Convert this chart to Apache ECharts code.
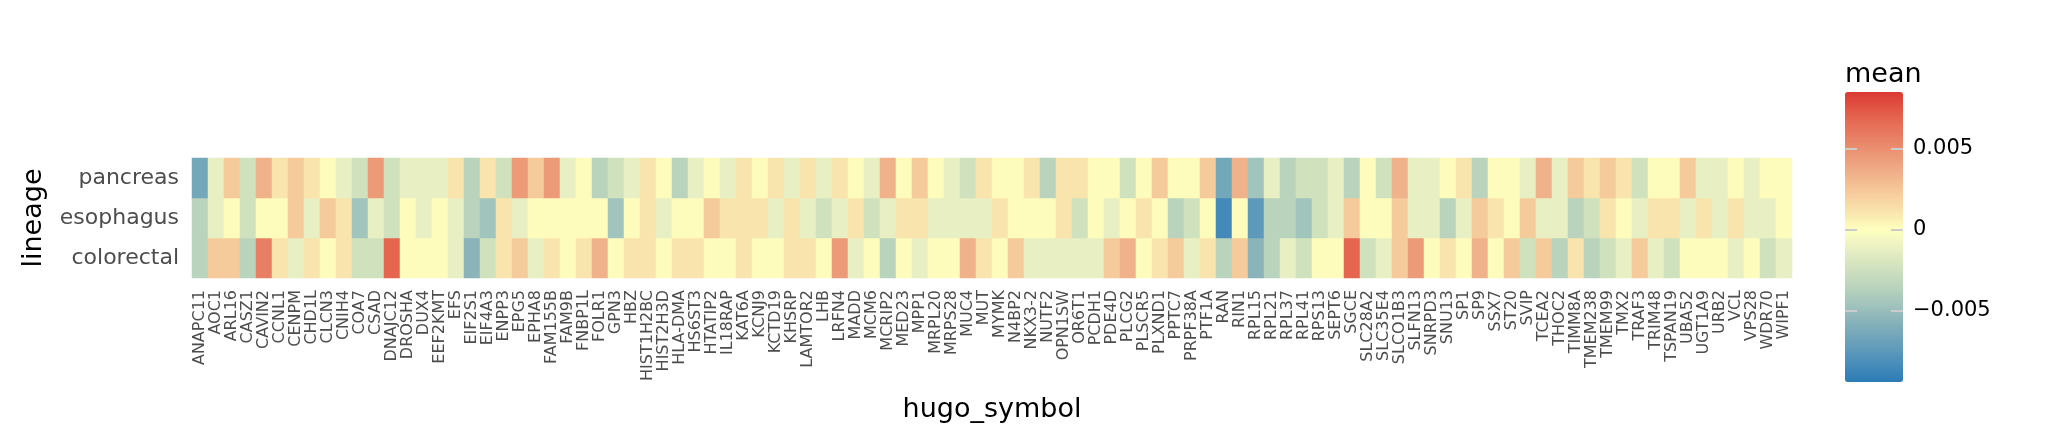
<!DOCTYPE html>
<html>
<head>
<meta charset="utf-8">
<script src="https://cdn.jsdelivr.net/npm/echarts@6/dist/echarts.min.js"></script>
<style>
  html, body { margin: 0; padding: 0; background: #fff; }
  #heatChart { width: 2047px; height: 445px; }
</style>
</head>
<body>
<div id="heatChart"></div>
<script>
const genes = ['ANAPC11','AOC1','ARL16','CASZ1','CAVIN2','CCNL1','CENPM','CHD1L','CLCN3','CNIH4',
  'COA7','CSAD','DNAJC12','DROSHA','DUX4','EEF2KMT','EFS','EIF2S1','EIF4A3','ENPP3',
  'EPG5','EPHA8','FAM155B','FAM9B','FNBP1L','FOLR1','GPN3','HBZ','HIST1H2BC','HIST2H3D',
  'HLA-DMA','HS6ST3','HTATIP2','IL18RAP','KAT6A','KCNJ9','KCTD19','KHSRP','LAMTOR2','LHB',
  'LRFN4','MADD','MCM6','MCRIP2','MED23','MPP1','MRPL20','MRPS28','MUC4','MUT',
  'MYMK','N4BP2','NKX3-2','NUTF2','OPN1SW','OR6T1','PCDH1','PDE4D','PLCG2','PLSCR5',
  'PLXND1','PPTC7','PRPF38A','PTF1A','RAN','RIN1','RPL15','RPL21','RPL37','RPL41',
  'RPS13','SEPT6','SGCE','SLC28A2','SLC35E4','SLCO1B3','SLFN13','SNRPD3','SNU13','SP1',
  'SP9','SSX7','ST20','SVIP','TCEA2','THOC2','TIMM8A','TMEM238','TMEM99','TMX2',
  'TRAF3','TRIM48','TSPAN19','UBA52','UGT1A9','URB2','VCL','VPS28','WDR70','WIPF1'];

// bottom to top
const lineages = ['colorectal', 'esophagus', 'pancreas'];

const pancreas = [-0.0065,-0.0012,0.0023,-0.0024,0.0034,0.0011,0.0023,0.0011,0.0001,-0.0012,
  -0.0024,0.0045,-0.0024,-0.0012,-0.0012,-0.0012,0.0011,-0.0035,0.0011,-0.0024,
  0.0045,0.0023,0.0045,-0.0012,0.0001,-0.0035,-0.0024,-0.0012,0.0011,0.0001,
  -0.0035,-0.0012,0.0001,-0.0012,0.0011,0.0001,0.0011,-0.0012,0.0011,-0.0012,
  0.0011,0.0001,-0.0012,0.0034,0.0001,0.0023,0.0001,-0.0012,-0.0024,0.0011,
  0.0001,0.0001,0.0011,-0.0035,0.0011,0.0011,0.0001,0.0001,-0.0024,0.0001,
  0.0023,0.0001,0.0001,0.0023,-0.0065,0.0034,-0.0046,-0.0012,-0.0035,-0.0024,
  -0.0024,-0.0012,-0.0035,0.0001,-0.0024,0.0034,-0.0012,-0.0012,0.0001,0.0011,
  -0.0035,0.0001,0.0001,-0.0012,0.0034,-0.0012,0.0023,0.0011,0.0023,0.0011,
  -0.0024,0.0001,0.0001,0.0023,-0.0012,-0.0012,0.0001,-0.0012,0.0001,0.0001];

const esophagus = [-0.0035,-0.0012,0.0001,-0.0024,0.0001,0.0001,0.0023,-0.0012,0.0023,0.0011,
  -0.0046,-0.0012,-0.0024,0.0001,-0.0012,0.0001,-0.0012,-0.0035,-0.0046,0.0011,
  -0.0012,0.0001,0.0001,0.0001,0.0001,0.0001,-0.0046,0.0001,0.0011,-0.0012,
  0.0001,0.0001,0.0023,0.0011,0.0011,0.0011,-0.0012,0.0011,-0.0012,-0.0024,
  -0.0012,0.0011,-0.0024,-0.0012,0.0011,0.0011,-0.0012,-0.0012,-0.0012,-0.0012,
  0.0011,0.0001,0.0001,0.0001,0.0011,-0.0024,0.0001,-0.0012,0.0001,0.0011,
  0.0001,-0.0035,-0.0024,0.0001,-0.0085,0.0001,-0.0075,-0.0035,-0.0035,-0.0046,
  -0.0024,-0.0012,0.0023,0.0001,0.0001,0.0023,-0.0012,-0.0012,-0.0035,-0.0012,
  0.0023,0.0011,0.0001,0.0023,-0.0012,-0.0012,-0.0035,-0.0024,0.0011,0.0001,
  -0.0012,0.0011,0.0011,-0.0012,0.0011,-0.0012,0.0011,-0.0012,-0.0012,0.0001];

const colorectal = [-0.0035,0.0023,0.0023,-0.0035,0.0057,0.0011,-0.0012,0.0011,0.0001,0.0011,
  -0.0024,-0.0024,0.0069,0.0001,0.0001,0.0001,-0.0012,-0.0056,-0.0024,0.0011,
  0.0023,-0.0012,0.0011,0.0001,0.0011,0.0034,0.0001,0.0011,0.0011,0.0001,
  0.0011,0.0011,0.0001,0.0001,0.0011,0.0001,0.0001,0.0011,0.0011,0.0001,
  0.0045,-0.0012,0.0001,-0.0035,0.0001,-0.0012,0.0001,0.0001,0.0034,0.0011,
  0.0001,0.0023,-0.0012,-0.0012,-0.0012,-0.0012,-0.0012,0.0023,0.0034,0.0001,
  0.0011,0.0023,-0.0012,0.0011,-0.0035,0.0023,-0.0056,-0.0035,-0.0012,-0.0024,
  0.0001,0.0001,0.0069,-0.0024,-0.0012,0.0023,0.0045,0.0001,0.0011,0.0001,
  0.0034,0.0001,0.0023,-0.0024,0.0023,-0.0035,0.0011,-0.0035,-0.0024,-0.0012,
  0.0023,-0.0012,-0.0024,0.0001,0.0001,0.0001,-0.0012,0.0001,-0.0024,-0.0012];

const legendTicks = [-0.005, 0, 0.005];
const meanMin = -0.0094;
const meanMax = 0.0085;

// colour scale
const colorStops = [
  [-0.0094, '#2C7BB6'], [-0.0085, '#4389BA'], [-0.0075, '#5C99BA'], [-0.0065, '#73A7BA'],
  [-0.0056, '#8AB3BA'], [-0.0046, '#A1C4BD'], [-0.0035, '#BAD3BC'], [-0.0024, '#D0E1BE'],
  [-0.0012, '#E8EFC3'], [0, '#FFFFBF'], [0.0011, '#F9E4AD'], [0.0023, '#F6CB9B'],
  [0.0034, '#F0B28A'], [0.0045, '#EC9A78'], [0.0057, '#E87F65'], [0.0069, '#E5654F'],
  [0.0085, '#DA3A33']
];

function hexToRgb(h) {
  return [parseInt(h.slice(1, 3), 16), parseInt(h.slice(3, 5), 16), parseInt(h.slice(5, 7), 16)];
}

function colorAt(v) {
  for (let i = 1; i < colorStops.length; i++) {
    if (v <= colorStops[i][0]) {
      let t = (v - colorStops[i - 1][0]) / (colorStops[i][0] - colorStops[i - 1][0]);
      let a = hexToRgb(colorStops[i - 1][1]), b = hexToRgb(colorStops[i][1]);
      let c = a.map((x, k) => Math.round(x + (b[k] - x) * t));
      return 'rgb(' + c.join(',') + ')';
    }
  }
  return colorStops[colorStops.length - 1][1];
}

function buildRamp() {
  let ramp = [];
  let steps = 180;
  for (let i = 0; i <= steps; i++) {
    ramp.push(colorAt(meanMin + (meanMax - meanMin) * i / steps));
  }
  return ramp;
}

function buildCells() {
  let rows = [colorectal, esophagus, pancreas];
  let cells = [];
  for (let r = 0; r < rows.length; r++) {
    for (let g = 0; g < genes.length; g++) {
      cells.push([g, r, rows[r][g]]);
    }
  }
  return cells;
}

const fontName = 'DejaVu Sans';
const heatChart = echarts.init(document.getElementById('heatChart'));

const option = {
  backgroundColor: '#ffffff',
  animation: false,
  textStyle: { fontFamily: fontName },
  grid: [
    { left: 192, top: 158, width: 1600, height: 120, outerBoundsMode: 'none' },
    { left: 1845, top: 92, width: 58, height: 290, outerBoundsMode: 'none' }
  ],
  xAxis: [
    {
      type: 'category',
      gridIndex: 0,
      data: genes,
      name: 'hugo_symbol',
      nameLocation: 'middle',
      nameGap: 118,
      nameTextStyle: { fontSize: 27, color: '#000', fontFamily: fontName },
      axisLine: { show: false },
      axisTick: { show: false },
      splitLine: { show: false },
      axisLabel: {
        interval: 0,
        rotate: 90,
        margin: 12,
        fontSize: 16,
        color: '#4D4D4D',
        fontFamily: fontName
      }
    },
    { type: 'value', gridIndex: 1, show: false, min: 0, max: 1 }
  ],
  yAxis: [
    {
      type: 'category',
      gridIndex: 0,
      data: lineages,
      name: 'lineage',
      nameLocation: 'middle',
      nameRotate: 90,
      nameGap: 145,
      nameTextStyle: { fontSize: 27, color: '#000', fontFamily: fontName },
      axisLine: { show: false },
      axisTick: { show: false },
      splitLine: { show: false },
      axisLabel: { margin: 13, fontSize: 22, color: '#4D4D4D', fontFamily: fontName }
    },
    {
      type: 'value',
      gridIndex: 1,
      position: 'left',
      min: meanMin,
      max: meanMax,
      z: 10,
      axisLine: { show: false },
      splitLine: { show: false },
      axisLabel: { show: false },
      axisTick: {
        show: true, inside: true, length: 12, customValues: legendTicks,
        lineStyle: { color: '#CCCCCC', width: 2 }
      }
    },
    {
      type: 'value',
      gridIndex: 1,
      position: 'right',
      min: meanMin,
      max: meanMax,
      z: 10,
      axisLine: { show: false },
      splitLine: { show: false },
      axisTick: {
        show: true, inside: true, length: 12, customValues: legendTicks,
        lineStyle: { color: '#CCCCCC', width: 2 }
      },
      axisLabel: {
        show: true,
        customValues: legendTicks,
        margin: 10,
        fontSize: 21,
        color: '#000',
        fontFamily: fontName,
        formatter: (val) => {
          if (Math.abs(val) < 1e-9) return '0';
          return (val < 0 ? '\u2212' : '') + Math.abs(val).toFixed(3);
        }
      }
    }
  ],
  visualMap: {
    type: 'continuous',
    seriesIndex: 0,
    min: meanMin,
    max: meanMax,
    orient: 'vertical',
    left: 1845,
    top: 92,
    padding: 0,
    itemWidth: 58,
    itemHeight: 290,
    calculable: false,
    hoverLink: false,
    inRange: { color: buildRamp() }
  },
  graphic: [
    {
      type: 'text',
      left: 1845,
      top: 61,
      style: { text: 'mean', fontSize: 27, fill: '#000', fontFamily: fontName }
    }
  ],
  series: [
    {
      type: 'heatmap',
      xAxisIndex: 0,
      yAxisIndex: 0,
      data: buildCells(),
      itemStyle: { borderWidth: 0 },
      emphasis: { disabled: true }
    }
  ]
};

heatChart.setOption(option);
</script>
</body>
</html>
